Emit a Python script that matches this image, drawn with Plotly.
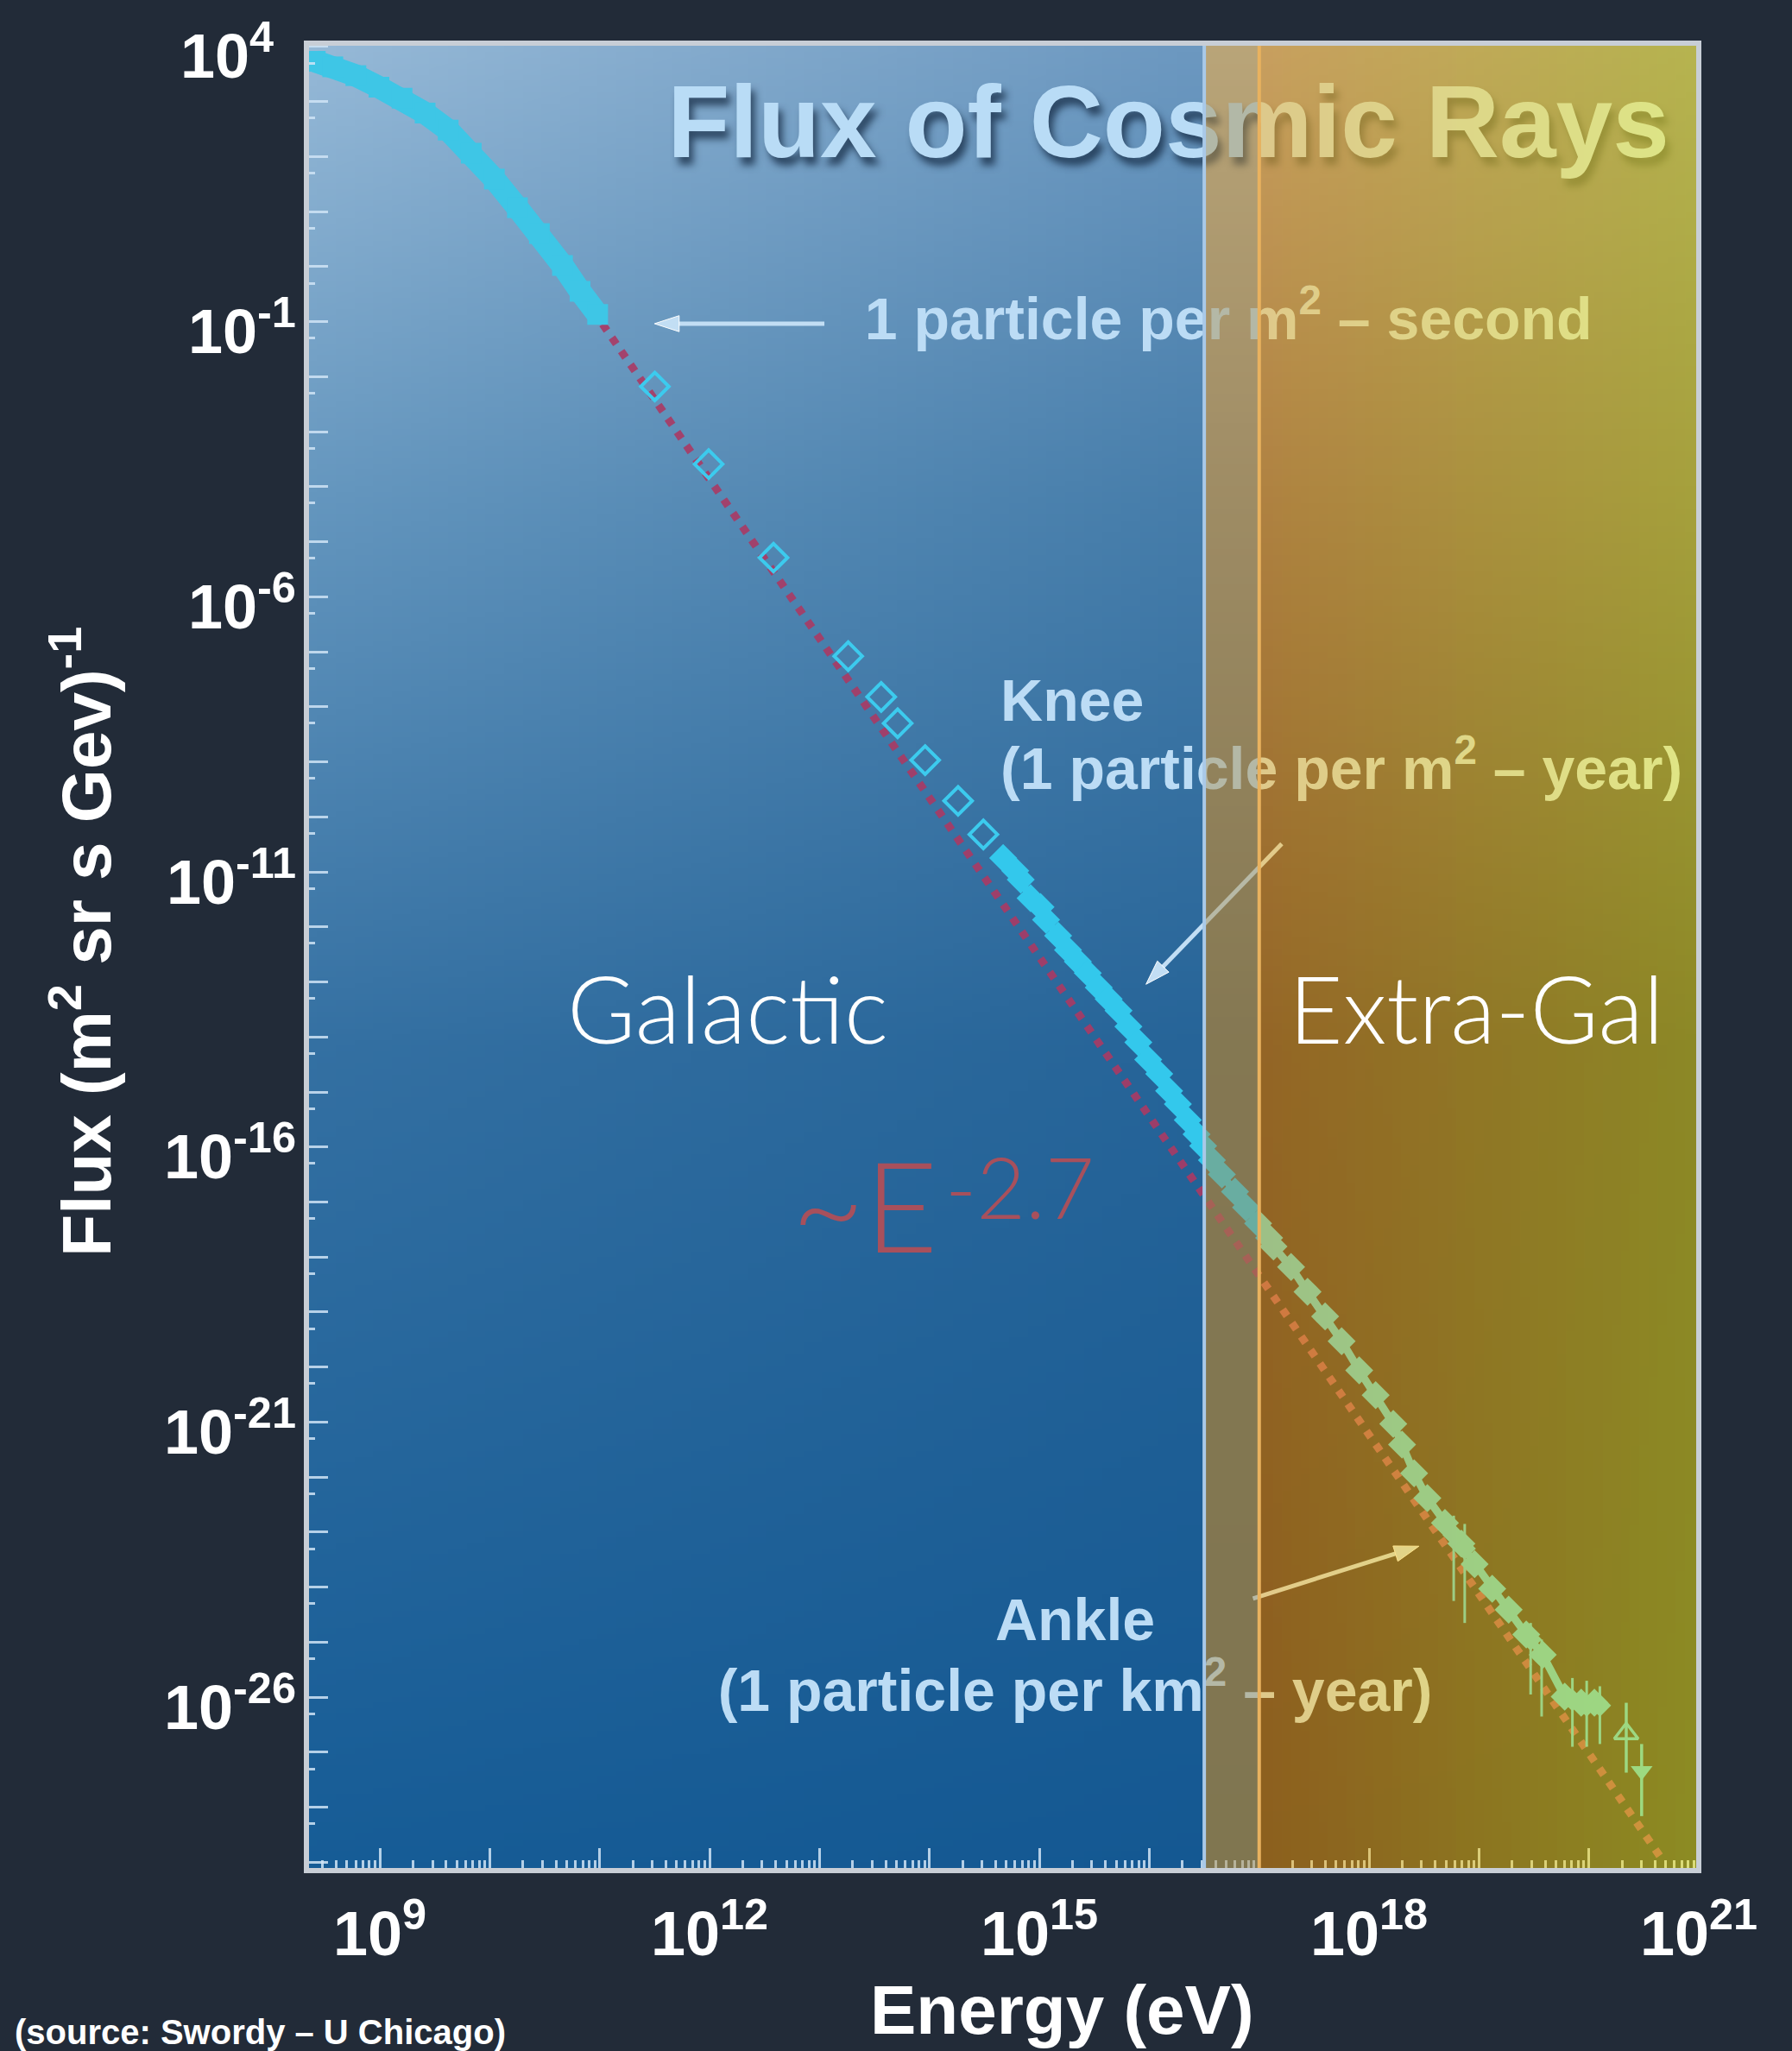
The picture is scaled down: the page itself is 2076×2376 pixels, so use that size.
import base64
import struct
import zlib

import numpy as np
import plotly.graph_objects as go

# ---------------------------------------------------------------------------
# Cosmic-ray flux readings (log10 of energy in eV, log10 of flux in
# (m^2 sr s GeV)^-1)
# ---------------------------------------------------------------------------
LOW_E_LOG_E = [8.41, 8.57, 8.78, 8.99, 9.20, 9.41, 9.62, 9.83, 10.04, 10.25,
               10.45, 10.66, 10.82, 10.98]
LOW_E_LOG_FLUX = [3.73, 3.63, 3.47, 3.26, 3.06, 2.79, 2.48, 2.06, 1.59, 1.07,
                  0.60, 0.02, -0.45, -0.87]

DIRECT_LOG_E = [11.50, 11.99, 12.58, 13.26, 13.56, 13.71, 13.96, 14.26, 14.49]
DIRECT_LOG_FLUX = [-2.18, -3.59, -5.29, -7.08, -7.82, -8.30, -8.97, -9.71,
                   -10.32]

SHOWER_LOG_E = [14.67, 14.78, 14.83, 14.92, 15.01, 15.06, 15.17, 15.26, 15.35,
                15.44, 15.54, 15.63, 15.72, 15.81, 15.90, 15.99, 16.09, 16.18,
                16.26, 16.35, 16.43, 16.49, 16.57, 16.66, 16.78, 16.88, 16.99,
                17.09, 17.13, 17.29, 17.44, 17.60, 17.75, 17.91, 18.06, 18.22,
                18.30, 18.41, 18.53, 18.69, 18.84, 18.96, 19.12, 19.27, 19.43,
                19.58, 19.78, 19.93, 20.05]
SHOWER_LOG_FLUX = [-10.75, -10.98, -11.14, -11.48, -11.64, -11.87, -12.16,
                   -12.42, -12.63, -12.84, -13.10, -13.31, -13.52, -13.81,
                   -14.10, -14.41, -14.67, -14.98, -15.22, -15.51, -15.77,
                   -15.98, -16.24, -16.50, -16.81, -17.10, -17.39, -17.65,
                   -17.81, -18.18, -18.63, -19.08, -19.53, -20.06, -20.51,
                   -21.03, -21.41, -21.93, -22.38, -22.83, -23.21, -23.58,
                   -24.03, -24.41, -24.86, -25.23, -25.99, -26.10, -26.10]

# sparse high-energy points with error bars (decades above / below)
UHE_LOG_E = [18.77, 18.87, 19.47, 19.57, 19.85, 19.98, 20.10]
UHE_LOG_FLUX = [-23.05, -23.30, -24.95, -25.25, -26.05, -26.15, -26.15]
UHE_ERR_UP = [0.35, 0.45, 0.30, 0.30, 0.40, 0.45, 0.35]
UHE_ERR_DOWN = [1.20, 1.35, 1.00, 1.10, 0.85, 0.75, 0.70]

OPEN_TRI_LOG_E = [20.34]
OPEN_TRI_LOG_FLUX = [-26.66]
OPEN_TRI_ERR = ([0.56], [0.71])
DOWN_TRI_LOG_E = [20.48]
DOWN_TRI_LOG_FLUX = [-27.34]
DOWN_TRI_ERR = ([0.49], [0.82])

# dotted power-law guide
GUIDE_LOG_E = [10.94, 20.65]
GUIDE_LOG_FLUX = [-0.80, -28.90]

# source-region boundaries (log10 eV)
GALACTIC_EDGE = 16.5
EXTRAGAL_EDGE = 17.0

X_RANGE = [8.33, 21.0]
Y_RANGE = [-29.15, 4.06]
X_LABELED = [9, 12, 15, 18, 21]
Y_LABELED = [4, -1, -6, -11, -16, -21, -26]


def pow10(vals):
    return [10.0 ** v for v in vals]


def frac(v, rng):
    return (v - rng[0]) / (rng[1] - rng[0])


# ---------------------------------------------------------------------------
# gradient backgrounds, encoded as small PNGs
# ---------------------------------------------------------------------------
def png_uri(rgba):
    rgba = np.ascontiguousarray(np.clip(np.rint(rgba), 0, 255).astype(np.uint8))
    h, w = rgba.shape[:2]
    raw = b"".join(b"\x00" + rgba[r].tobytes() for r in range(h))

    def chunk(tag, data):
        return (struct.pack(">I", len(data)) + tag + data
                + struct.pack(">I", zlib.crc32(tag + data) & 0xFFFFFFFF))

    png = (b"\x89PNG\r\n\x1a\n"
           + chunk(b"IHDR", struct.pack(">IIBBBBB", w, h, 8, 6, 0, 0, 0))
           + chunk(b"IDAT", zlib.compress(raw, 9))
           + chunk(b"IEND", b""))
    return "data:image/png;base64," + base64.b64encode(png).decode("ascii")


def gradient(rows, left, right, w=48, h=320):
    t = np.linspace(0, 1, h)
    s = np.linspace(0, 1, w)
    left = np.asarray(left, float)
    right = np.asarray(right, float)
    lc = np.stack([np.interp(t, rows, left[:, c]) for c in range(3)], axis=-1)
    rc = np.stack([np.interp(t, rows, right[:, c]) for c in range(3)], axis=-1)
    return lc[:, None, :] * (1 - s[None, :, None]) + rc[:, None, :] * s[None, :, None]


def with_alpha(rgb, alpha):
    a = np.full(rgb.shape[:2] + (1,), 255.0 * alpha)
    return np.concatenate([rgb, a], axis=-1)


ROWS = [0.0, 0.25, 0.55, 1.0]

blue = gradient(ROWS,
                [(150, 185, 215), (100, 150, 190), (52, 112, 162), (22, 92, 150)],
                [(108, 152, 192), (70, 125, 170), (38, 100, 152), (20, 88, 146)])

# strip between the two boundaries: tinted glass over an opaque base
STRIP_ALPHA = 0.45
strip_tint = gradient([0, 1], [(170, 140, 70)] * 2, [(170, 140, 70)] * 2)
strip_look = gradient(ROWS,
                      [(185, 165, 120), (158, 140, 100), (132, 120, 82), (128, 118, 80)],
                      [(185, 165, 120), (158, 140, 100), (132, 120, 82), (128, 118, 80)])
strip_base = np.clip((strip_look - STRIP_ALPHA * strip_tint) / (1 - STRIP_ALPHA), 0, 255)

# extragalactic side: orange -> olive
EG_ALPHA = 0.52
eg_tint = gradient([0, 1], [(255, 185, 40)] * 2, [(255, 240, 30)] * 2)
eg_look = gradient(ROWS,
                   [(200, 160, 95), (175, 130, 65), (148, 102, 38), (140, 95, 30)],
                   [(182, 180, 80), (165, 160, 60), (140, 136, 38), (140, 140, 35)])
eg_base = np.clip((eg_look - EG_ALPHA * eg_tint) / (1 - EG_ALPHA), 0, 255)

fg = frac(GALACTIC_EDGE, X_RANGE)
fe = frac(EXTRAGAL_EDGE, X_RANGE)


def place(uri, x0, x1, layer):
    return dict(source=uri, xref="paper", yref="paper", x=x0, y=1,
                sizex=x1 - x0, sizey=1, xanchor="left", yanchor="top",
                sizing="stretch", layer=layer)


images = [
    place(png_uri(with_alpha(blue, 1.0)), 0, fg, "below"),
    place(png_uri(with_alpha(strip_base, 1.0)), fg, fe, "below"),
    place(png_uri(with_alpha(eg_base, 1.0)), fe, 1, "below"),
    place(png_uri(with_alpha(strip_tint, STRIP_ALPHA)), fg, fe, "above"),
    place(png_uri(with_alpha(eg_tint, EG_ALPHA)), fe, 1, "above"),
]

# ---------------------------------------------------------------------------
# traces
# ---------------------------------------------------------------------------
CYAN = "#33c8ec"
fig = go.Figure()

fig.add_trace(go.Scatter(
    x=pow10(GUIDE_LOG_E), y=pow10(GUIDE_LOG_FLUX), mode="lines",
    line=dict(color="rgba(170,58,100,0.9)", width=9, dash="9px,10px"),
    hoverinfo="skip", showlegend=False))

fig.add_trace(go.Scatter(
    x=pow10(LOW_E_LOG_E), y=pow10(LOW_E_LOG_FLUX), mode="lines+markers",
    line=dict(color="#3ec6e6", width=26),
    marker=dict(symbol="square", size=24, color="#3ec6e6"),
    hoverinfo="skip", showlegend=False))

fig.add_trace(go.Scatter(
    x=pow10(DIRECT_LOG_E), y=pow10(DIRECT_LOG_FLUX), mode="markers",
    marker=dict(symbol="diamond-open", size=25, color="#3ccbee",
                line=dict(width=4, color="#3ccbee")),
    hoverinfo="skip", showlegend=False))

fig.add_trace(go.Scatter(
    x=pow10(SHOWER_LOG_E), y=pow10(SHOWER_LOG_FLUX), mode="lines+markers",
    line=dict(color=CYAN, width=9),
    marker=dict(symbol="diamond", size=25, color=CYAN),
    hoverinfo="skip", showlegend=False))


def err_abs(log_vals, up, down):
    v = np.array(log_vals)
    return (list(10 ** (v + np.array(up)) - 10 ** v),
            list(10 ** v - 10 ** (v - np.array(down))))


up_abs, down_abs = err_abs(UHE_LOG_FLUX, UHE_ERR_UP, UHE_ERR_DOWN)
fig.add_trace(go.Scatter(
    x=pow10(UHE_LOG_E), y=pow10(UHE_LOG_FLUX), mode="markers",
    marker=dict(symbol="diamond", size=20, color=CYAN),
    error_y=dict(type="data", symmetric=False, array=up_abs,
                 arrayminus=down_abs, color=CYAN, thickness=3, width=0),
    hoverinfo="skip", showlegend=False))

up_abs, down_abs = err_abs(OPEN_TRI_LOG_FLUX, *OPEN_TRI_ERR)
fig.add_trace(go.Scatter(
    x=pow10(OPEN_TRI_LOG_E), y=pow10(OPEN_TRI_LOG_FLUX), mode="markers",
    marker=dict(symbol="triangle-up-open", size=24, color=CYAN,
                line=dict(width=3.5, color=CYAN)),
    error_y=dict(type="data", symmetric=False, array=up_abs,
                 arrayminus=down_abs, color=CYAN, thickness=3.5, width=0),
    hoverinfo="skip", showlegend=False))

up_abs, down_abs = err_abs(DOWN_TRI_LOG_FLUX, *DOWN_TRI_ERR)
fig.add_trace(go.Scatter(
    x=pow10(DOWN_TRI_LOG_E), y=pow10(DOWN_TRI_LOG_FLUX), mode="markers",
    marker=dict(symbol="triangle-down", size=22, color=CYAN),
    error_y=dict(type="data", symmetric=False, array=up_abs,
                 arrayminus=down_abs, color=CYAN, thickness=3.5, width=0),
    hoverinfo="skip", showlegend=False))

# ---------------------------------------------------------------------------
# in-panel labels and arrows (drawn under the tinted glass)
# ---------------------------------------------------------------------------
BOLD = "Liberation Sans"
TEXT_BLUE = "#bcdcf5"


def panel_text(x, y, txt, size, pos, color=TEXT_BLUE, shadow="none"):
    fig.add_trace(go.Scatter(
        x=[x], y=[y], mode="text", text=[txt], textposition=pos,
        textfont=dict(family=BOLD, size=size, color=color, weight="bold",
                      shadow=shadow),
        xaxis="x2", yaxis="y2", hoverinfo="skip", showlegend=False))


def panel_arrow(x0, y0, x1, y1, color):
    fig.add_trace(go.Scatter(
        x=[x0, x1], y=[y0, y1], mode="lines+markers",
        line=dict(color=color, width=5),
        marker=dict(symbol="arrow", size=[1, 30], opacity=[0, 1],
                    angleref="previous", color=color),
        xaxis="x2", yaxis="y2", hoverinfo="skip", showlegend=False))


panel_text(0.619, 0.9515, "Flux of Cosmic Rays", 118, "middle center",
           color="#b9dcf6", shadow="5px 9px 8px rgba(15,35,60,0.7)")
panel_text(0.401, 0.846, "1 particle per m<sup>2</sup> – second", 68,
           "middle right")
panel_arrow(0.372, 0.8465, 0.250, 0.8465, "#c2def4")

panel_text(0.4985, 0.637, "Knee", 68, "middle right")
panel_text(0.4985, 0.6, "(1 particle per m<sup>2</sup> – year)", 68,
           "middle right")
panel_arrow(0.7005, 0.5619, 0.603, 0.485, "#c2def4")

panel_text(0.5521, 0.134, "Ankle", 68, "middle center")
panel_text(0.5521, 0.0955, "(1 particle per km<sup>2</sup> – year)", 68,
           "middle center")
panel_arrow(0.6798, 0.1489, 0.799, 0.1775, "#c2def4")

# ---------------------------------------------------------------------------
# decorations above the glass
# ---------------------------------------------------------------------------
shapes = [
    dict(type="line", xref="paper", yref="paper", x0=fg, x1=fg, y0=0, y1=1,
         line=dict(color="#a9c9e8", width=4), layer="above"),
    dict(type="line", xref="paper", yref="paper", x0=fe, x1=fe, y0=0, y1=1,
         line=dict(color="#e9b25f", width=4), layer="above"),
    dict(type="rect", xref="paper", yref="paper", x0=0, x1=1, y0=0, y1=1,
         line=dict(color="#c8ced6", width=6), layer="above"),
]

LIGHT = "Lato"
TICK_FONT = dict(family=BOLD, size=72, color="white", weight="bold")
annotations = [
    dict(x=0.3028, y=0.4724, xref="paper", yref="paper", text="Galactic",
         showarrow=False, xanchor="center", yanchor="middle",
         font=dict(family=LIGHT, size=108, color="white", weight=300)),
    dict(x=0.8404, y=0.4724, xref="paper", yref="paper", text="Extra-Gal",
         showarrow=False, xanchor="center", yanchor="middle",
         font=dict(family=LIGHT, size=108, color="white", weight=300)),
    dict(x=0.4545, y=0.365, xref="paper", yref="paper", text="~E",
         showarrow=False, xanchor="right", yanchor="middle",
         font=dict(family=LIGHT, size=146, color="#a8505c", weight=300)),
    dict(x=0.4575, y=0.3745, xref="paper", yref="paper", text="-2.7",
         showarrow=False, xanchor="left", yanchor="middle",
         font=dict(family=LIGHT, size=98, color="#a8505c", weight=300)),
    dict(x=0.5427, y=-0.0765, xref="paper", yref="paper", text="Energy (eV)",
         showarrow=False, xanchor="center", yanchor="middle",
         font=dict(family=BOLD, size=80, color="white", weight="bold")),
    dict(x=-0.1615, y=0.5082, xref="paper", yref="paper",
         text="Flux (m<sup>2</sup> sr s Gev)<sup>-1</sup>", textangle=-90,
         showarrow=False, xanchor="center", yanchor="middle",
         font=dict(family=BOLD, size=80, color="white", weight="bold")),
    dict(x=-0.2108, y=-0.0768, xref="paper", yref="paper",
         text="(source: Swordy – U Chicago)", showarrow=False,
         xanchor="left", yanchor="top",
         font=dict(family=BOLD, size=40, color="white", weight="bold")),
]

# decade labels (annotation x / y on log axes are given as log10 values)
for k in X_LABELED:
    annotations.append(dict(
        x=k, y=-0.0095, xref="x", yref="paper", text=f"10<sup>{k}</sup>",
        showarrow=False, xanchor="center", yanchor="top", font=TICK_FONT))
for k in Y_LABELED:
    annotations.append(dict(
        x=-0.006, y=k, xref="paper", yref="y", text=f"10<sup>{k}</sup>",
        showarrow=False, xanchor="right", yanchor="middle", yshift=-6,
        xshift=-26 if k >= 0 else 0, font=TICK_FONT))

# ---------------------------------------------------------------------------
# axes
# ---------------------------------------------------------------------------
TICK_COLOR = "rgba(208,228,246,0.85)"

xaxis = dict(
    type="log", range=X_RANGE, showgrid=False, zeroline=False, showline=False,
    tickmode="array", tickvals=[10.0 ** k for k in range(8, 22)],
    showticklabels=False,
    ticks="inside", ticklen=26, tickwidth=3, tickcolor=TICK_COLOR,
    minor=dict(tickvals=[m * 10.0 ** k for k in range(8, 21) for m in range(2, 10)],
               ticks="inside", ticklen=12, tickwidth=3, tickcolor=TICK_COLOR,
               showgrid=False),
)
yaxis = dict(
    type="log", range=Y_RANGE, showgrid=False, zeroline=False, showline=False,
    tickmode="array", tickvals=[10.0 ** k for k in range(-29, 5)],
    showticklabels=False,
    ticks="inside", ticklen=25, tickwidth=3, tickcolor=TICK_COLOR,
    minor=dict(tickvals=[5 * 10.0 ** k for k in range(-30, 4)],
               ticks="inside", ticklen=10, tickwidth=3, tickcolor=TICK_COLOR,
               showgrid=False),
)

fig.update_layout(
    width=2076, height=2376,
    margin=dict(l=355, r=108, t=50, b=209, autoexpand=False),
    paper_bgcolor="#222b38", plot_bgcolor="rgba(0,0,0,0)",
    xaxis=xaxis, yaxis=yaxis,
    xaxis2=dict(overlaying="x", range=[0, 1], visible=False, fixedrange=True),
    yaxis2=dict(overlaying="y", range=[0, 1], visible=False, fixedrange=True),
    images=images, shapes=shapes, annotations=annotations,
    showlegend=False,
)

fig.write_html("out.html")
